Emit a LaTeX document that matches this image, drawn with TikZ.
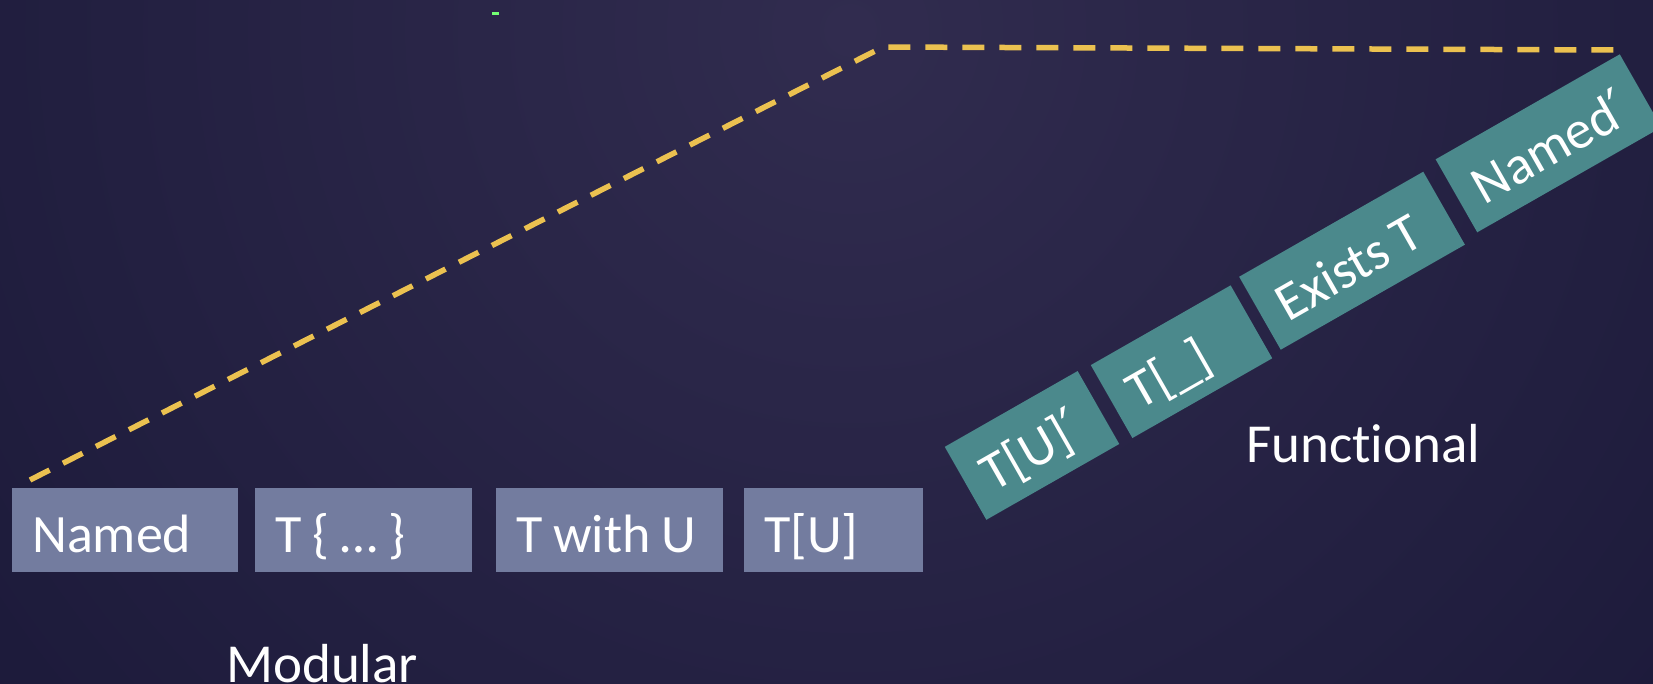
\documentclass[tikz,border=0pt]{standalone}
\usepackage{fontspec}
\setmainfont{Carlito}[Ligatures=NoCommon]
\newfontfamily\primefont{DejaVu Sans}
\newcommand{\prm}{{\primefont ′}}

\definecolor{bgdark}{HTML}{1C1A3A}
\definecolor{bglight}{HTML}{312C4F}
\definecolor{modbox}{HTML}{737C9F}
\definecolor{funbox}{HTML}{4B898C}
\definecolor{dashgold}{HTML}{EBC150}

\begin{document}
\begin{tikzpicture}[x=1pt, y=-1pt,
		boxtext/.style={text=white, font=\fontsize{54pt}{60pt}\selectfont, execute at begin node={\spaceskip=0.2em plus 0.05em\relax}, inner xsep=20pt, inner ysep=0pt, minimum height=84pt, text height=44pt, text depth=0pt, align=left},
		modular/.style={boxtext, fill=modbox, anchor=west},
		functional/.style={boxtext, fill=funbox, rotate=29.7},
		caption/.style={text=white, font=\fontsize{55pt}{60pt}\selectfont, inner sep=0pt, anchor=base west}]
				\useasboundingbox (0,0) rectangle (1653,683);
				\fill[bgdark] (0,0) rectangle (1653,683);
				\begin{scope}
					\clip (0,0) rectangle (1653,683);
					\shade[inner color=bglight, outer color=bgdark] (850,30) circle (1100pt);
				\end{scope}
				\fill[green!55!white] (492,12) rectangle (499,15);
				
				\coordinate (a) at (30,480);
				\coordinate (b) at (883,47);
				\coordinate (c) at (1617,50);
				\draw[dashgold, line width=5.5pt, dash pattern=on 22pt off 15pt] (a) -- (b) -- (c);
				
				\node[modular, text width=186pt] (1) at (12,530) {Named};
				\node[modular, text width=177pt] (2) at (255,530) {T \{ … \}};
				\node[modular, text width=187pt] (3) at (496,530) {T with U};
				\node[modular, text width=139pt] (4) at (744,530) {T[U]};
				
				\node[functional, text width=113pt] (5) at (1032,445.4) {T[U]\prm};
				\node[functional, text width=121pt] (6) at (1181.5,361.7) {T[\_]};
				\node[functional, text width=172pt] (7) at (1352,260.7) {Exists T};
				\node[functional, text width=172pt] (8) at (1548.5,143.3) {Named\prm};
				
				\node[caption] (9) at (226,682) {Modular};
				\node[caption] (10) at (1246,462) {Functional};
				\end{tikzpicture}
\end{document}
